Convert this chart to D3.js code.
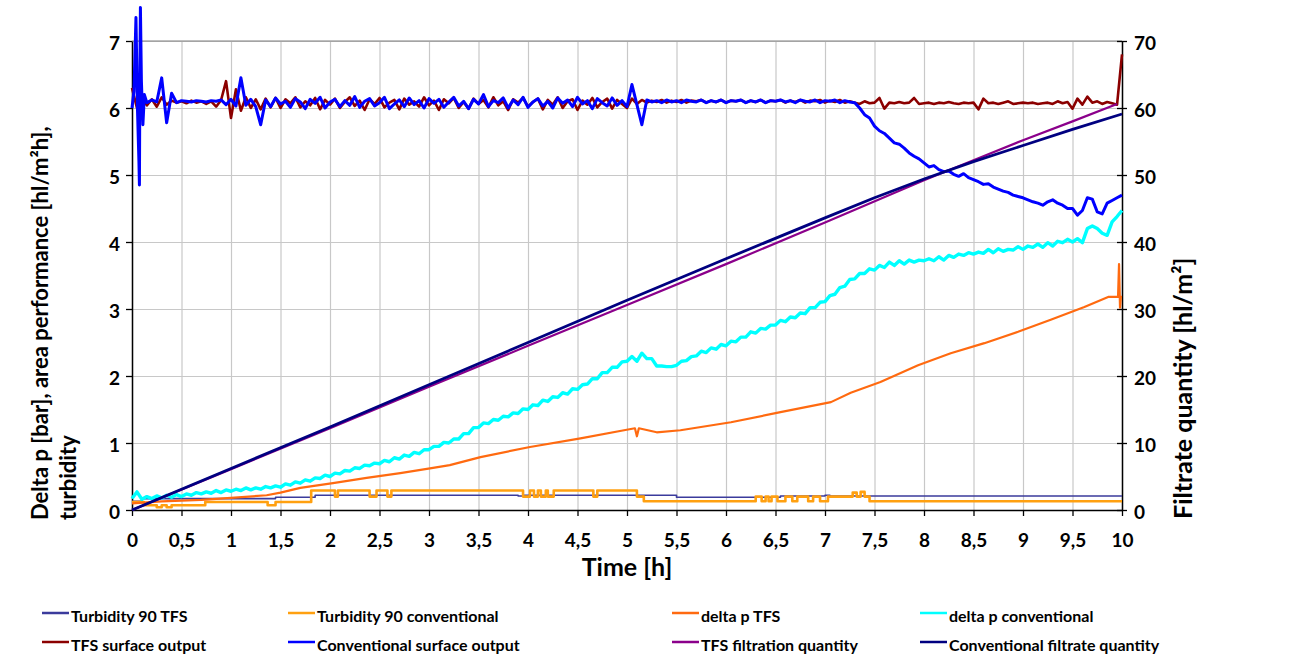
<!DOCTYPE html>
<html>
<head>
<meta charset="utf-8">
<script src="https://cdn.jsdelivr.net/npm/d3@7/dist/d3.min.js"></script>
<style>
  body { margin: 0; background: #fff; }
</style>
</head>
<body>
<div id="chart"></div>
<script>
// x axis ticks (hours) and labels
const xTicks = [0, 0.5, 1, 1.5, 2, 2.5, 3, 3.5, 4, 4.5, 5, 5.5, 6, 6.5, 7, 7.5, 8, 8.5, 9, 9.5, 10];
const xTickLabels = ["0", "0,5", "1", "1,5", "2", "2,5", "3", "3,5", "4", "4,5", "5", "5,5", "6", "6,5", "7", "7,5", "8", "8,5", "9", "9,5", "10"];
const leftTicks = [0, 1, 2, 3, 4, 5, 6, 7];
const rightTicks = [0, 10, 20, 30, 40, 50, 60, 70];

const seriesNames = [
  "Turbidity 90 TFS", "Turbidity 90 conventional", "delta p TFS", "delta p conventional",
  "TFS surface output", "Conventional surface output", "TFS filtration quantity", "Conventional filtrate quantity"
];

// Turbidity 90 TFS [t, value] (step)
const turbTFS = [[0, 0.13], [0.1, 0.17], [1.45, 0.19], [1.85, 0.22], [3.9, 0.21], [3.95, 0.22],
  [5.5, 0.19], [6.55, 0.21], [7.0, 0.22], [7.05, 0.21], [10, 0.21]];

// Turbidity 90 conventional [t, value] (step)
const turbConv = [[0, 0.12], [0.12, 0.07], [0.25, 0.04], [0.30, 0.07], [0.35, 0.04], [0.40, 0.07],
  [0.74, 0.12], [1.37, 0.07], [1.45, 0.12], [1.81, 0.29], [2.05, 0.20], [2.08, 0.29], [2.40, 0.20],
  [2.47, 0.29], [2.58, 0.20], [2.62, 0.29], [3.95, 0.20], [4.02, 0.29], [4.06, 0.20], [4.10, 0.29],
  [4.13, 0.20], [4.18, 0.29], [4.20, 0.20], [4.26, 0.29], [4.66, 0.20], [4.70, 0.29], [5.10, 0.20],
  [5.17, 0.13], [6.30, 0.20], [6.36, 0.13], [6.40, 0.20], [6.43, 0.13], [6.46, 0.20], [6.52, 0.13],
  [6.60, 0.20], [6.67, 0.13], [6.72, 0.20], [6.83, 0.13], [6.88, 0.20], [6.95, 0.13], [7.03, 0.20],
  [7.28, 0.26], [7.32, 0.20], [7.36, 0.27], [7.40, 0.20], [7.45, 0.13], [10, 0.13]];

// delta p TFS [t, bar]
const dpTFS = [[0, 0.10], [0.3, 0.13], [0.7, 0.15], [1.0, 0.18], [1.36, 0.22], [1.5, 0.26], [1.7, 0.33],
  [2.03, 0.40], [2.37, 0.48], [2.71, 0.55], [3.01, 0.62], [3.21, 0.67], [3.52, 0.79], [4.02, 0.94],
  [4.53, 1.07], [4.97, 1.19], [5.08, 1.22], [5.10, 1.10], [5.12, 1.22], [5.3, 1.16], [5.54, 1.19],
  [6.05, 1.31], [6.55, 1.46], [7.06, 1.61], [7.26, 1.75], [7.56, 1.91], [7.94, 2.16], [8.27, 2.34],
  [8.61, 2.49], [8.95, 2.66], [9.28, 2.84], [9.62, 3.03], [9.86, 3.18], [9.96, 3.18], [9.97, 3.67],
  [9.98, 3.02], [9.99, 3.20]];

// delta p conventional, every 0.05 h from 0 to 10
const dpConv = [
  0.17, 0.27, 0.16, 0.20, 0.17, 0.21, 0.18, 0.22, 0.19, 0.23,
  0.20, 0.24, 0.22, 0.26, 0.24, 0.27, 0.25, 0.29, 0.26, 0.30,
  0.28, 0.31, 0.29, 0.33, 0.30, 0.33, 0.31, 0.35, 0.33, 0.36,
  0.34, 0.39, 0.37, 0.42, 0.40, 0.45, 0.43, 0.48, 0.47, 0.52,
  0.50, 0.55, 0.54, 0.59, 0.58, 0.63, 0.62, 0.67, 0.66, 0.70,
  0.69, 0.74, 0.72, 0.78, 0.76, 0.82, 0.80, 0.86, 0.84, 0.90,
  0.90, 0.95, 0.95, 1.01, 1.00, 1.06, 1.06, 1.14, 1.14, 1.23,
  1.23, 1.30, 1.29, 1.35, 1.34, 1.40, 1.39, 1.45, 1.44, 1.51,
  1.50, 1.57, 1.56, 1.64, 1.62, 1.69, 1.68, 1.75, 1.73, 1.81,
  1.80, 1.87, 1.88, 1.96, 1.96, 2.05, 2.05, 2.13, 2.13, 2.21,
  2.22, 2.29, 2.22, 2.34, 2.26, 2.26, 2.15, 2.15, 2.14, 2.14,
  2.16, 2.22, 2.23, 2.29, 2.30, 2.37, 2.35, 2.42, 2.40, 2.47,
  2.45, 2.52, 2.51, 2.58, 2.58, 2.66, 2.64, 2.71, 2.70, 2.76,
  2.76, 2.83, 2.81, 2.88, 2.87, 2.94, 2.93, 3.02, 3.02, 3.10,
  3.11, 3.20, 3.22, 3.32, 3.34, 3.44, 3.45, 3.53, 3.53, 3.60,
  3.58, 3.65, 3.62, 3.70, 3.65, 3.72, 3.67, 3.73, 3.70, 3.73,
  3.72, 3.75, 3.72, 3.78, 3.73, 3.80, 3.77, 3.82, 3.80, 3.84,
  3.82, 3.85, 3.83, 3.89, 3.84, 3.90, 3.86, 3.89, 3.88, 3.93,
  3.89, 3.94, 3.92, 3.97, 3.92, 3.99, 3.94, 4.01, 3.99, 4.04,
  4.00, 4.05, 3.99, 4.20, 4.24, 4.20, 4.13, 4.10, 4.30, 4.38,
  4.47];

// TFS surface output, every 0.05 h from 0 to 10
const surfTFS = [
  6.30, 6.00, 6.15, 6.04, 6.13, 6.02, 6.16, 6.05, 6.11, 6.08,
  6.10, 6.07, 6.11, 6.08, 6.10, 6.06, 6.10, 6.02, 6.12, 6.40,
  5.85, 6.28, 5.96, 6.16, 6.00, 6.13, 5.98, 6.14, 6.01, 6.15,
  6.00, 6.13, 6.07, 6.16, 6.01, 6.10, 6.04, 6.15, 5.98, 6.12,
  6.05, 6.14, 6.00, 6.09, 6.16, 6.03, 6.11, 5.97, 6.13, 6.06,
  6.15, 6.01, 6.08, 6.12, 5.98, 6.14, 6.05, 6.10, 6.02, 6.16,
  6.04, 6.11, 5.97, 6.13, 6.07, 6.15, 6.00, 6.09, 5.99, 6.14,
  6.06, 6.12, 6.01, 6.16, 6.04, 6.10, 5.97, 6.13, 6.08, 6.15,
  6.02, 6.09, 6.14, 5.98, 6.12, 6.05, 6.16, 6.00, 6.10, 6.13,
  5.97, 6.11, 6.05, 6.15, 6.01, 6.09, 6.14, 5.99, 6.12, 6.06,
  6.00, 6.14, 6.06, 6.12, 6.08, 6.11, 6.09, 6.12, 6.08, 6.11,
  6.09, 6.12, 6.08, 6.11, 6.10, 6.12, 6.08, 6.11, 6.09, 6.12,
  6.08, 6.11, 6.10, 6.12, 6.08, 6.11, 6.09, 6.12, 6.08, 6.11,
  6.10, 6.12, 6.08, 6.11, 6.09, 6.12, 6.08, 6.11, 6.10, 6.12,
  6.08, 6.11, 6.09, 6.12, 6.08, 6.10, 6.08, 6.06, 6.10, 6.07,
  6.08, 6.15, 5.99, 6.08, 6.07, 6.09, 6.07, 6.08, 6.15, 6.06,
  6.07, 6.08, 6.06, 6.08, 6.07, 6.09, 6.07, 6.06, 6.08, 6.07,
  6.08, 5.98, 6.14, 6.07, 6.08, 6.06, 6.08, 6.10, 6.06, 6.07,
  6.08, 6.07, 6.08, 6.06, 6.07, 6.08, 6.06, 6.10, 6.07, 6.09,
  5.99, 6.14, 6.05, 6.17, 6.08, 6.10, 6.06, 6.09, 6.07, 6.05,
  6.80];

// Conventional surface output: start-up transient [t, value], then every 0.05 h from 0.15 to 10
const surfConvStart = [[0, 6.0], [0.02, 6.25], [0.04, 7.35], [0.055, 6.0], [0.07, 5.2], [0.075, 4.85],
  [0.08, 6.6], [0.085, 7.5], [0.095, 6.4], [0.11, 5.75], [0.125, 6.2]];
const surfConv = [
  6.08, 6.12, 6.09, 6.45,
  5.78, 6.22, 6.08, 6.11, 6.10, 6.09, 6.11, 6.10, 6.09, 6.11,
  6.10, 6.12, 6.05, 6.13, 6.03, 6.45, 6.04, 6.13, 6.02, 5.75,
  6.12, 6.02, 6.15, 6.06, 6.10, 6.01, 6.14, 6.09, 5.99, 6.13,
  6.07, 6.16, 6.00, 6.09, 6.13, 6.02, 6.11, 6.04, 6.17, 6.01,
  6.10, 6.14, 6.03, 6.08, 6.16, 5.99, 6.06, 6.12, 6.02, 6.15,
  6.05, 6.11, 6.00, 6.14, 6.07, 6.13, 6.01, 6.09, 6.16, 6.03,
  6.10, 5.99, 6.13, 6.06, 6.20, 6.02, 6.11, 6.08, 6.15, 6.00,
  6.12, 6.05, 6.16, 6.01, 6.09, 6.14, 6.03, 6.10, 6.00, 6.15,
  6.07, 6.12, 6.02, 6.16, 6.06, 6.11, 5.99, 6.14, 6.08, 6.03,
  6.15, 6.04, 6.11, 6.02, 6.35, 6.05, 5.75, 6.12, 6.09, 6.11,
  6.08, 6.12, 6.09, 6.11, 6.08, 6.12, 6.10, 6.09, 6.12, 6.08,
  6.11, 6.09, 6.12, 6.08, 6.11, 6.10, 6.12, 6.08, 6.11, 6.09,
  6.12, 6.08, 6.11, 6.10, 6.12, 6.09, 6.11, 6.08, 6.12, 6.10,
  6.09, 6.12, 6.08, 6.11, 6.10, 6.12, 6.08, 6.11, 6.09, 6.08,
  6.00, 5.90, 5.85, 5.73, 5.66, 5.62, 5.55, 5.48, 5.46, 5.40,
  5.33, 5.28, 5.24, 5.18, 5.12, 5.14, 5.08, 5.05, 5.06, 5.01,
  4.98, 5.02, 4.96, 4.93, 4.90, 4.86, 4.87, 4.82, 4.79, 4.76,
  4.74, 4.70, 4.68, 4.66, 4.63, 4.60, 4.58, 4.55, 4.60, 4.63,
  4.58, 4.55, 4.50, 4.50, 4.40, 4.47, 4.66, 4.64, 4.45, 4.42,
  4.58, 4.62, 4.66, 4.70];

// filtrate quantities [t, hl/m2] (right axis)
const filtTFS = [[0, 0], [1, 6.1], [2, 12.2], [3, 18.4], [4, 24.5], [5, 30.6], [6, 36.7], [7, 42.9],
  [8, 49.2], [8.5, 52.2], [9, 55.2], [9.5, 58.0], [9.95, 60.6]];
const filtConv = [[0, 0], [1, 6.2], [2, 12.4], [3, 18.7], [4, 25.0], [5, 31.3], [6, 37.5], [7, 43.6],
  [7.5, 46.6], [8, 49.4], [8.5, 52.0], [9, 54.4], [9.5, 56.8], [10, 59.1]];

const colors = ["#3b3b9c", "#ffa010", "#ff6a10", "#00ffff", "#8b0000", "#0000ff", "#8b008b", "#000080"];
const FONT = "Lato, 'Open Sans', sans-serif";

const width = 1315, height = 659;
const margin = { top: 41, right: 193, bottom: 149, left: 132 };
const innerWidth = width - margin.left - margin.right;
const innerHeight = height - margin.top - margin.bottom;

const svg = d3.select("#chart").append("svg")
  .attr("width", width)
  .attr("height", height)
  .attr("font-family", FONT)
  .attr("font-weight", "bold");

const g = svg.append("g")
  .attr("transform", `translate(${margin.left},${margin.top})`);

const x = d3.scaleLinear().domain([0, 10]).range([0, innerWidth]);
const yL = d3.scaleLinear().domain([0, 7]).range([innerHeight, 0]);
const yR = d3.scaleLinear().domain([0, 70]).range([innerHeight, 0]);

// grid
g.append("g")
  .call(d3.axisBottom(x).tickValues(xTicks).tickSize(innerHeight).tickFormat(""))
  .call(a => a.select(".domain").remove())
  .call(a => a.selectAll("text").remove())
  .selectAll("line").attr("stroke", "#c8c8c8").attr("stroke-width", 1.2);
g.append("g")
  .call(d3.axisLeft(yL).tickValues(leftTicks).tickSize(-innerWidth).tickFormat(""))
  .call(a => a.select(".domain").remove())
  .call(a => a.selectAll("text").remove())
  .selectAll("line").attr("stroke", "#c8c8c8").attr("stroke-width", 1.2);

// top border
g.append("line")
  .attr("x1", 0).attr("x2", innerWidth).attr("y1", 0).attr("y2", 0)
  .attr("stroke", "#808080").attr("stroke-width", 1.2);

// axes
const xAxis = g.append("g")
  .attr("transform", `translate(0,${innerHeight})`)
  .call(d3.axisBottom(x).tickValues(xTicks).tickSize(6).tickSizeOuter(0)
    .tickFormat((d, i) => xTickLabels[i]));
xAxis.selectAll("text").attr("y", 24);

const lAxis = g.append("g")
  .call(d3.axisLeft(yL).tickValues(leftTicks).tickSize(6).tickSizeOuter(0).tickFormat(d3.format("d")));
lAxis.selectAll("text").attr("x", -12).attr("dy", "0.45em");

const rAxis = g.append("g")
  .attr("transform", `translate(${innerWidth},0)`)
  .call(d3.axisRight(yR).tickValues(rightTicks).tickSize(5).tickSizeOuter(0));
rAxis.selectAll("line").attr("x1", -5);
rAxis.selectAll("text").attr("x", 12).attr("dy", "0.45em");

[xAxis, lAxis, rAxis].forEach(a => {
  a.attr("font-family", FONT).attr("font-size", 19).attr("font-weight", "bold");
  a.selectAll("text").attr("fill", "#000");
  a.select(".domain").attr("stroke", "#000").attr("stroke-width", 1.5);
  a.selectAll(".tick line").attr("stroke", "#000").attr("stroke-width", 1.3);
});

// series
const lineL = d3.line().x(d => x(d[0])).y(d => yL(d[1]));
const lineR = d3.line().x(d => x(d[0])).y(d => yR(d[1]));
const stepL = d3.line().x(d => x(d[0])).y(d => yL(d[1])).curve(d3.curveStepAfter);

const dpConvPts = dpConv.map((v, i) => [i * 0.05, v]);
const surfTFSPts = surfTFS.map((v, i) => [i * 0.05, v]);
const surfConvPts = surfConvStart.concat(surfConv.map((v, i) => [0.15 + i * 0.05, v]));

const drawn = [
  { data: turbTFS, gen: stepL, w: 1.6 },
  { data: turbConv, gen: stepL, w: 2.6 },
  { data: dpTFS, gen: lineL, w: 2.2 },
  { data: dpConvPts, gen: lineL, w: 3.4 },
  { data: surfTFSPts, gen: lineL, w: 2.6 },
  { data: surfConvPts, gen: lineL, w: 3 },
  { data: filtTFS, gen: lineR, w: 2.2 },
  { data: filtConv, gen: lineR, w: 2.8 }
];

drawn.forEach((s, i) => {
  g.append("path")
    .datum(s.data)
    .attr("fill", "none")
    .attr("stroke", colors[i])
    .attr("stroke-width", s.w)
    .attr("stroke-linejoin", "round")
    .attr("d", s.gen);
});

// axis titles
svg.append("text")
  .attr("x", margin.left + innerWidth / 2)
  .attr("y", 576)
  .attr("text-anchor", "middle")
  .attr("font-size", 25)
  .text("Time [h]");

const lt = svg.append("text")
  .attr("transform", "translate(48,520) rotate(-90)")
  .attr("font-size", 22);
lt.append("tspan").attr("x", 0).attr("y", 0).text("Delta p [bar], area performance [hl/m²h],");
lt.append("tspan").attr("x", 0).attr("y", 28).text("turbidity");

svg.append("text")
  .attr("transform", "translate(1192,519) rotate(-90)")
  .attr("font-size", 25)
  .text("Filtrate quantity [hl/m²]");

// legend
const legendCols = [42, 288, 672, 920];
const legendRows = [613, 642];
const legend = svg.append("g");
seriesNames.forEach((name, i) => {
  const lx = legendCols[i % 4];
  const ly = legendRows[Math.floor(i / 4)];
  legend.append("line")
    .attr("x1", lx).attr("x2", lx + 27)
    .attr("y1", ly).attr("y2", ly)
    .attr("stroke", colors[i]).attr("stroke-width", 2.5);
  legend.append("text")
    .attr("x", lx + 29)
    .attr("y", ly + 9)
    .attr("font-size", 16)
    .text(name);
});
</script>
</body>
</html>
